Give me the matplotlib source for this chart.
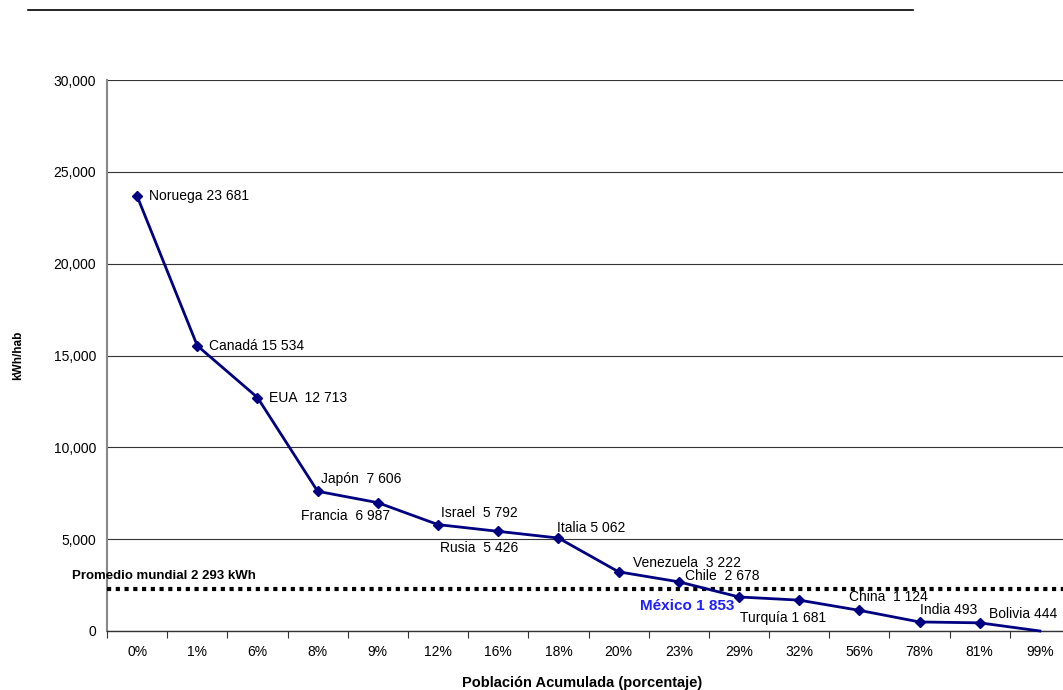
import matplotlib
matplotlib.use("Agg")
import matplotlib.pyplot as plt
from matplotlib.lines import Line2D
from matplotlib.ticker import FuncFormatter, FixedLocator

plt.rcParams['font.family'] = ['Liberation Sans', 'DejaVu Sans']

# Consumo eléctrico per cápita vs. población acumulada
poblacion = ['0%', '1%', '6%', '8%', '9%', '12%', '16%', '18%', '20%',
             '23%', '29%', '32%', '56%', '78%', '81%', '99%']
consumo = [23681, 15534, 12713, 7606, 6987, 5792, 5426, 5062, 3222,
           2678, 1853, 1681, 1124, 493, 444, 0]
paises = ['Noruega 23 681', 'Canadá 15 534', 'EUA  12 713', 'Japón  7 606',
          'Francia  6 987', 'Israel  5 792', 'Rusia  5 426', 'Italia 5 062',
          'Venezuela  3 222', 'Chile  2 678', 'México 1 853', 'Turquía 1 681',
          'China  1 124', 'India 493', 'Bolivia 444']
promedio_mundial = 2293

# label placement: (dx px, dy px, horizontal alignment)
posiciones = [(12, 0, 'left'), (12, 0, 'left'), (12, 0, 'left'),
              (3, 12, 'left'), (12, -13, 'right'), (3, 12, 'left'),
              (-19, -17, 'center'), (-1, 10, 'left'), (14, 9, 'left'),
              (6, 6, 'left'), (-5, -9, 'right'), (-59, -18, 'left'),
              (-10, 13, 'left'), (0, 12, 'left'), (9, 9, 'left')]

fig = plt.figure(figsize=(10.63, 6.90), dpi=100)
ax = fig.add_axes([107 / 1063, 59 / 690, 963 / 1063, 551 / 690])

x = list(range(len(poblacion)))
ax.plot(x, consumo, color='#000080', lw=2.0, marker='D', ms=5,
        markevery=list(range(len(paises))), zorder=4, clip_on=False)

ax.axhline(promedio_mundial, color='black', lw=3.0, linestyle=(0, (1, 1.1)),
           zorder=3)
ax.annotate('Promedio mundial 2 293 kWh', xy=(0, promedio_mundial),
            xycoords=('figure pixels', 'data'), xytext=(72, 13),
            textcoords='offset pixels', ha='left', va='center',
            fontsize=9.5, fontweight='bold', annotation_clip=False)

for i, (txt, (dx, dy, ha)) in enumerate(zip(paises, posiciones)):
    es_mexico = txt.startswith('México')
    ax.annotate(txt, xy=(i, consumo[i]), xytext=(dx, dy),
                textcoords='offset pixels', ha=ha, va='center',
                fontsize=11 if es_mexico else 10,
                fontweight='bold' if es_mexico else 'normal',
                color='#1f1fff' if es_mexico else 'black', zorder=5)

ax.set_xlim(-0.5, len(poblacion) - 0.5)
ax.set_ylim(0, 30000)
ax.yaxis.set_major_locator(FixedLocator(range(0, 30001, 5000)))
ax.yaxis.set_major_formatter(FuncFormatter(lambda v, p: f'{int(v):,}'))
ax.grid(axis='y', color='#333333', lw=0.8)
ax.set_axisbelow(True)

ax.set_xticks([i - 0.5 for i in range(len(poblacion) + 1)])
ax.set_xticklabels([])
ax.set_xticks(x, minor=True)
ax.set_xticklabels(poblacion, minor=True)
ax.tick_params(axis='x', which='major', length=5, width=0.8, color='#333333',
               direction='out')
ax.tick_params(axis='x', which='minor', length=0, pad=10, labelsize=10)
ax.tick_params(axis='y', length=0, pad=8, labelsize=10)

for s in ['top', 'right']:
    ax.spines[s].set_visible(False)
ax.spines['left'].set_color('#888888')
ax.spines['left'].set_linewidth(1.5)
ax.spines['bottom'].set_color('#333333')
ax.spines['bottom'].set_linewidth(1.0)

fig.text(582 / 1063, 1 - 683 / 690, 'Población Acumulada (porcentaje)',
         ha='center', va='center', fontsize=10.5, fontweight='bold')
fig.text(18 / 1063, 1 - 355 / 690, 'kWh/hab', ha='center', va='center',
         rotation=90, fontsize=8.5, fontweight='bold')

fig.add_artist(Line2D([28 / 1063, 913 / 1063], [1 - 9.5 / 690, 1 - 9.5 / 690],
                      color='black', lw=1.2, transform=fig.transFigure))

fig.savefig('out.png', dpi=100)
